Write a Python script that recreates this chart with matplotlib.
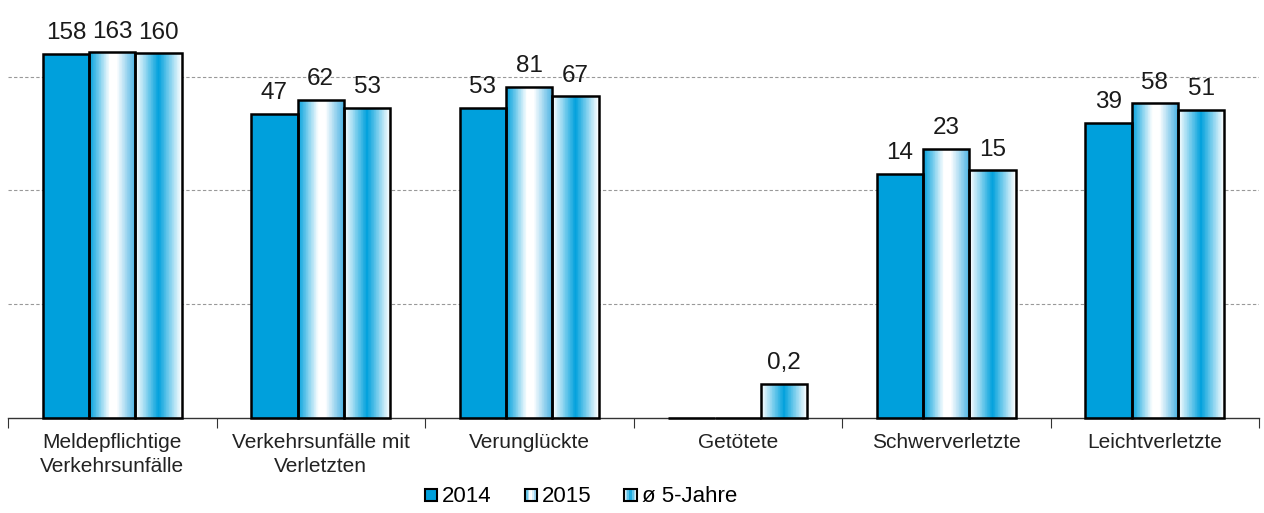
import numpy as np
import matplotlib
matplotlib.use("Agg")
import matplotlib.pyplot as plt
from matplotlib.colors import LinearSegmentedColormap
from matplotlib.patches import Patch, Rectangle
from matplotlib.legend_handler import HandlerBase

plt.rcParams['font.family'] = ['Liberation Sans', 'DejaVu Sans']

categories = ["Meldepflichtige\nVerkehrsunfälle", "Verkehrsunfälle mit\nVerletzten",
              "Verunglückte", "Getötete", "Schwerverletzte", "Leichtverletzte"]
series_names = ["2014", "2015", "ø 5-Jahre"]
v2014 = [158, 47, 53, 0, 14, 39]
v2015 = [163, 62, 81, 0, 23, 58]
v5j = [160, 53, 67, 0.2, 15, 51]
labels2014 = ["158", "47", "53", "", "14", "39"]
labels2015 = ["163", "62", "81", "", "23", "58"]
labels5j = ["160", "53", "67", "0,2", "15", "51"]

BLUE = "#00A0DC"
W = "#FFFFFF"
cmap_solid = LinearSegmentedColormap.from_list("s", [BLUE, BLUE])
cmap_2015 = LinearSegmentedColormap.from_list("a", [(0, BLUE), (0.45, W), (0.6, W), (1.0, "#4DB3E3")])
cmap_5j = LinearSegmentedColormap.from_list("b", [(0, W), (0.5, BLUE), (1.0, W)])
cmaps = [cmap_solid, cmap_2015, cmap_5j]

fig = plt.figure(figsize=(12.64, 5.13), dpi=100)
ax = fig.add_axes([8/1264, 95/513, 1251/1264, 418/513])
ax.set_yscale('log')
base = 0.1
ax.set_ylim(base, 470)
ax.set_xlim(0, len(categories))

bw = 0.222
series = [v2014, v2015, v5j]
labs = [labels2014, labels2015, labels5j]
grad = np.linspace(0, 1, 64).reshape(1, -1)
for si, (vals, lab) in enumerate(zip(series, labs)):
    for ci, v in enumerate(vals):
        x0 = ci + 0.5 + (si - 1.5) * bw
        top = max(v, base)
        if v > 0:
            xe = np.linspace(x0, x0 + bw, 65)
            ax.pcolormesh(xe, [base, top], grad, cmap=cmaps[si], shading='flat', zorder=2)
        ax.add_patch(Rectangle((x0, base), bw, top - base, fill=False, edgecolor='black',
                               linewidth=1.8, zorder=3, clip_on=False))
        if lab[ci]:
            ax.annotate(lab[ci], (x0 + bw / 2, top), xytext=(0, 7), textcoords='offset points',
                        ha='center', va='bottom', fontsize=17.5, color='#1a1a1a')

for g in [1, 10, 100]:
    ax.axhline(g, color='#999999', linestyle=(0, (3, 2)), linewidth=0.8, zorder=1)

for s in ['top', 'right', 'left']:
    ax.spines[s].set_visible(False)
ax.spines['bottom'].set_color('#333333')
ax.spines['bottom'].set_linewidth(1.0)
ax.set_yticks([])
ax.yaxis.set_minor_locator(matplotlib.ticker.NullLocator())
ax.set_xticks(np.arange(len(categories) + 1))
ax.set_xticklabels([])
ax.set_xticks(np.arange(len(categories)) + 0.5, minor=True)
ax.set_xticklabels(categories, minor=True, fontsize=15, color='#222222', linespacing=1.3)
ax.tick_params(axis='x', which='major', length=7, color='#333333', direction='out')
ax.tick_params(axis='x', which='minor', length=0, pad=11)


class GradHandler(HandlerBase):
    def __init__(self, cmap):
        super().__init__()
        self.cmap = cmap

    def create_artists(self, legend, orig_handle, xdescent, ydescent, width, height, fontsize, trans):
        s = height * 0.8
        x0 = xdescent + (width - s) / 2 - xdescent * 2
        y0 = -ydescent + (height - s) / 2
        arts = []
        n = 8
        for k in range(n):
            c = self.cmap((k + 0.5) / n)
            arts.append(Rectangle((x0 + k * s / n, y0), s / n + 0.3, s, facecolor=c,
                                  edgecolor='none', transform=trans))
        arts.append(Rectangle((x0, y0), s, s, fill=False, edgecolor='black', linewidth=1.5, transform=trans))
        return arts


handles = [Patch(label=n) for n in series_names]
fig.legend(handles=handles, labels=series_names, loc='center', bbox_to_anchor=(0.459, 16/513),
           ncol=3, frameon=False, fontsize=16, handlelength=0.7, handletextpad=0.15, columnspacing=1.4,
           handler_map={h: GradHandler(c) for h, c in zip(handles, cmaps)})

fig.savefig("out.png", dpi=100)
